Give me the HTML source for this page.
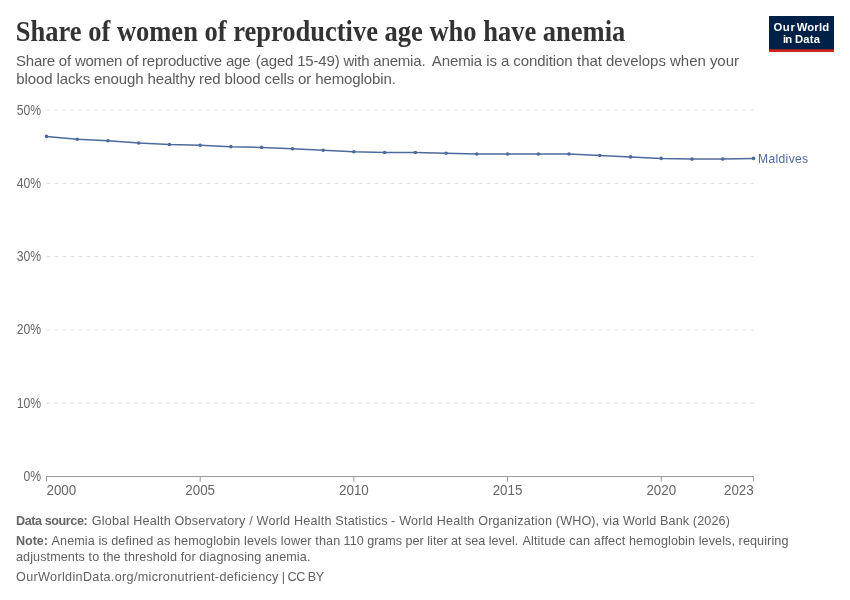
<!DOCTYPE html>
<html lang="en">
<head>
<meta charset="utf-8">
<title>Share of women of reproductive age who have anemia</title>
<style>
html,body{margin:0;padding:0;background:#fff;}
body{width:850px;height:600px;overflow:hidden;font-family:"Liberation Sans",sans-serif;}
svg{display:block;}
svg text{font-family:"Liberation Sans",sans-serif;}
.title{font-family:"Liberation Serif",serif;font-weight:700;font-size:29px;fill:#333;}
.sub{font-size:15px;fill:#5b5b5b;}
.tick{font-size:14.3px;fill:#666;}
.foot{font-size:12.6px;fill:#606060;}
.b{font-weight:700;fill:#666;}
.logo{font-weight:700;font-size:11.3px;fill:#fff;}
</style>
</head>
<body>
<svg width="850" height="600" viewBox="0 0 850 600">
<rect x="0" y="0" width="850" height="600" fill="#ffffff"/>
<text class="title" x="15.8" y="41" textLength="609.5" lengthAdjust="spacingAndGlyphs">Share of women of reproductive age who have anemia</text>
<text class="sub" y="66"><tspan x="16" textLength="234.5" lengthAdjust="spacing">Share of women of reproductive age</tspan> <tspan x="255.8" textLength="169.8" lengthAdjust="spacing">(aged 15-49) with anemia.</tspan> <tspan x="431.7" textLength="141" lengthAdjust="spacing">Anemia is a condition</tspan> <tspan x="577" textLength="162" lengthAdjust="spacing">that develops when your</tspan></text>
<text class="sub" x="16.3" y="84" textLength="379.5" lengthAdjust="spacing">blood lacks enough healthy red blood cells or hemoglobin.</text>
<g><rect x="769" y="16" width="65" height="36" fill="#002147"/><rect x="769" y="49.3" width="65" height="2.7" fill="#ce261e"/><text class="logo" y="31"><tspan x="773.4" textLength="21.4" lengthAdjust="spacing">Our</tspan> <tspan x="796.7" textLength="32.4" lengthAdjust="spacing">World</tspan></text><text class="logo" y="43"><tspan x="782.9" textLength="9.2" lengthAdjust="spacing">in</tspan> <tspan x="794.9" textLength="25.1" lengthAdjust="spacing">Data</tspan></text></g>
<g stroke="#dddddd" stroke-width="1" stroke-dasharray="4,4" fill="none"><line x1="46.3" y1="403.24" x2="753.6" y2="403.24"/><line x1="46.3" y1="329.93" x2="753.6" y2="329.93"/><line x1="46.3" y1="256.62" x2="753.6" y2="256.62"/><line x1="46.3" y1="183.31" x2="753.6" y2="183.31"/><line x1="46.3" y1="110.00" x2="753.6" y2="110.00"/></g>
<g class="tick"><text transform="translate(41.2,481.00) scale(0.853,1)" text-anchor="end">0%</text><text transform="translate(41.2,408.00) scale(0.853,1)" text-anchor="end">10%</text><text transform="translate(41.2,334.00) scale(0.853,1)" text-anchor="end">20%</text><text transform="translate(41.2,261.00) scale(0.853,1)" text-anchor="end">30%</text><text transform="translate(41.2,188.00) scale(0.853,1)" text-anchor="end">40%</text><text transform="translate(41.2,115.00) scale(0.853,1)" text-anchor="end">50%</text></g>
<g stroke="#999999" stroke-width="1" fill="none"><line x1="46" y1="476.55" x2="753.95" y2="476.55"/><line x1="46.50" y1="476.55" x2="46.50" y2="481.55"/><line x1="200.18" y1="476.55" x2="200.18" y2="481.55"/><line x1="353.87" y1="476.55" x2="353.87" y2="481.55"/><line x1="507.55" y1="476.55" x2="507.55" y2="481.55"/><line x1="661.24" y1="476.55" x2="661.24" y2="481.55"/><line x1="753.45" y1="476.55" x2="753.45" y2="481.55"/></g>
<g class="tick"><text transform="translate(46.5,495) scale(0.936,1)">2000</text><text transform="translate(200.18,495) scale(0.936,1)" text-anchor="middle">2005</text><text transform="translate(353.87,495) scale(0.936,1)" text-anchor="middle">2010</text><text transform="translate(507.55,495) scale(0.936,1)" text-anchor="middle">2015</text><text transform="translate(661.24,495) scale(0.936,1)" text-anchor="middle">2020</text><text transform="translate(753.7,495) scale(0.936,1)" text-anchor="end">2023</text></g>
<path d="M46.50,136.39 L77.24,139.32 L107.97,140.79 L138.71,142.99 L169.45,144.46 L200.18,145.19 L230.92,146.66 L261.66,147.39 L292.40,148.85 L323.13,150.32 L353.87,151.79 L384.61,152.52 L415.34,152.52 L446.08,153.25 L476.82,153.99 L507.55,153.99 L538.29,153.99 L569.03,153.99 L599.77,155.45 L630.50,156.92 L661.24,158.38 L691.98,159.12 L722.71,159.12 L753.45,158.38" fill="none" stroke="#4C6A9C" stroke-width="1.5" stroke-linejoin="round" stroke-linecap="round"/>
<g fill="#4C6A9C"><circle cx="46.50" cy="136.39" r="1.8"/><circle cx="77.24" cy="139.32" r="1.8"/><circle cx="107.97" cy="140.79" r="1.8"/><circle cx="138.71" cy="142.99" r="1.8"/><circle cx="169.45" cy="144.46" r="1.8"/><circle cx="200.18" cy="145.19" r="1.8"/><circle cx="230.92" cy="146.66" r="1.8"/><circle cx="261.66" cy="147.39" r="1.8"/><circle cx="292.40" cy="148.85" r="1.8"/><circle cx="323.13" cy="150.32" r="1.8"/><circle cx="353.87" cy="151.79" r="1.8"/><circle cx="384.61" cy="152.52" r="1.8"/><circle cx="415.34" cy="152.52" r="1.8"/><circle cx="446.08" cy="153.25" r="1.8"/><circle cx="476.82" cy="153.99" r="1.8"/><circle cx="507.55" cy="153.99" r="1.8"/><circle cx="538.29" cy="153.99" r="1.8"/><circle cx="569.03" cy="153.99" r="1.8"/><circle cx="599.77" cy="155.45" r="1.8"/><circle cx="630.50" cy="156.92" r="1.8"/><circle cx="661.24" cy="158.38" r="1.8"/><circle cx="691.98" cy="159.12" r="1.8"/><circle cx="722.71" cy="159.12" r="1.8"/><circle cx="753.45" cy="158.38" r="1.8"/></g>
<text x="758.1" y="163" font-size="12.1" fill="#4C6A9C" textLength="50" lengthAdjust="spacing">Maldives</text>
<text class="foot b" x="16.1" y="525" textLength="71.6" lengthAdjust="spacing">Data source:</text> <text class="foot" y="525"><tspan x="91.8" textLength="295.8" lengthAdjust="spacing">Global Health Observatory / World Health Statistics</tspan> <tspan x="391" textLength="161.1" lengthAdjust="spacing">- World Health Organization</tspan> <tspan x="555.8" textLength="174.1" lengthAdjust="spacing">(WHO), via World Bank (2026)</tspan></text>
<text class="foot b" x="16.1" y="545" textLength="31.8" lengthAdjust="spacing">Note:</text> <text class="foot" y="545"><tspan x="51.6" textLength="118.6" lengthAdjust="spacing">Anemia is defined as</tspan> <tspan x="173.9" textLength="166.3" lengthAdjust="spacing">hemoglobin levels lower than</tspan> <tspan x="343.6" textLength="174.6" lengthAdjust="spacing">110 grams per liter at sea level.</tspan> <tspan x="522.4" textLength="102.8" lengthAdjust="spacing">Altitude can affect</tspan> <tspan x="629" textLength="159.4" lengthAdjust="spacing">hemoglobin levels, requiring</tspan></text>
<text class="foot" x="15.9" y="561" textLength="294.5" lengthAdjust="spacing">adjustments to the threshold for diagnosing anemia.</text>
<text class="foot" y="581"><tspan x="16.1" textLength="262.3" lengthAdjust="spacing">OurWorldinData.org/micronutrient-deficiency</tspan> <tspan x="281.8" textLength="42.4" lengthAdjust="spacing">| CC BY</tspan></text>
</svg>
</body>
</html>
